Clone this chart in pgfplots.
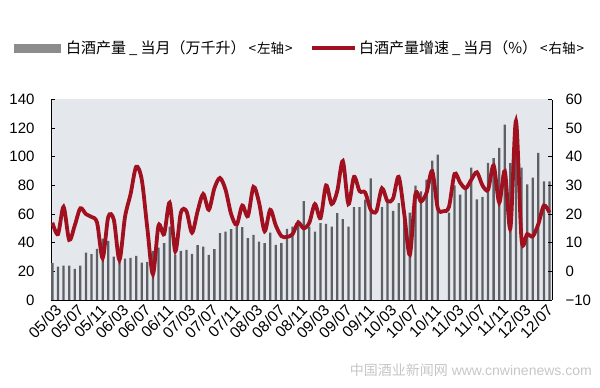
\documentclass[border=0pt]{standalone}
\usepackage{fontspec}
\setmainfont{Liberation Sans}
\newfontfamily\cjk{Noto Sans CJK SC}
\usepackage{pgfplots}
\usepackage{pgfplotstable}
\pgfplotsset{compat=1.18}
\definecolor{bgc}{HTML}{E4E8ED}
\definecolor{barc}{HTML}{5E6065}
\definecolor{legbar}{HTML}{8C8C8C}
\definecolor{linec}{HTML}{A0101E}

\pgfplotstableread{
x y
0 25.7
1 23.3
2 24
3 24
4 21.7
5 24
6 33.1
7 32
8 35.7
9 42.9
10 41.3
11 30.3
12 28
13 28.9
14 29.4
15 30.8
16 26.1
17 26.6
18 34.3
19 36.6
20 39.7
21 51.3
22 31.5
23 34.3
24 35
25 32.2
26 38.3
27 37.3
28 31.5
29 35.5
30 46.7
31 47.8
32 49.5
33 50.9
34 50.9
35 43.2
36 45.5
37 40.8
38 39.7
39 47.1
40 38.5
41 39.7
42 49.7
43 51.3
44 56
45 69.1
46 51.3
47 47.8
48 53.7
49 53.2
50 51.3
51 60.7
52 56.5
53 51.3
54 64.9
55 64.9
56 70
57 85
58 nan
59 64.9
60 67.7
61 62.3
62 67.7
63 56.5
64 61
65 79.8
66 75.8
67 84
68 97.3
69 101.5
70 nan
71 61
72 80
73 73.5
74 77
75 92.4
76 70.3
77 72
78 95.7
79 99
80 106.2
81 122.5
82 95.5
83 108.5
84 92.4
85 80.8
86 85.4
87 102.7
88 82.8
89 82.8
}\bars

\pgfplotstableread{
x y
0 17
1 13
2 22.5
3 11
4 16
5 22
6 20
7 19
8 17
9 4.6
10 19
11 18
12 4
13 19
14 27
15 36.5
16 32
17 15
18 -1
19 16
20 13
21 24
22 7
23 20.5
24 21
25 13.5
26 21
27 27
28 21.5
29 29
30 32.6
31 28.5
32 20
33 16.3
34 23
35 19.3
36 29.5
37 24
38 14
39 21.5
40 16
41 12.3
42 12
43 13
44 17
45 15
46 17
47 23.5
48 18.6
49 30
50 23.5
51 28
52 38.5
53 23.5
54 33
55 28
56 27.5
57 21.5
58 21
59 29
60 24.5
61 25.5
62 33
63 20
64 5.8
65 27
66 24.4
67 27.5
68 35
69 22
70 21
71 22.5
72 34
73 31
74 29
75 32
76 34.6
77 30
78 28.5
79 37
80 24
81 35
82 15
83 52.5
84 11
85 13
86 12.2
87 16.5
88 23
89 20.5
}\growth

\begin{document}
\begin{tikzpicture}
\useasboundingbox (0pt,0pt) rectangle (600pt,388pt);
\begin{axis}[
  at={(51pt,88pt)}, anchor=south west,
  scale only axis, width=501pt, height=200.5pt,
  xmin=-0.25, xmax=89.45, ymin=0, ymax=140,
  axis x line*=bottom, axis y line*=left,
  axis background/.style={fill=bgc},
  axis line style={black, line width=0.6pt},
  tick align=inside, major tick length=4pt,
  tick style={black, line width=0.6pt},
  ytick={0,20,...,140},
  xtick={0,4,...,88},
  xticklabels={05/03,05/07,05/11,06/03,06/07,06/11,07/03,07/07,07/11,08/03,08/07,08/11,09/03,09/07,09/11,10/03,10/07,10/11,11/03,11/07,11/11,12/03,12/07},
  x tick label style={rotate=45, anchor=north east, font=\fontsize{15.5}{17}\selectfont, inner sep=1pt, yshift=-3pt},
  y tick label style={font=\fontsize{15}{18}\selectfont, xshift=-13pt},
  /pgf/number format/assume math mode=true,
  clip=false,
]
\addplot[ybar, bar width=2.3pt, fill=barc, draw=none] table[x=x,y=y] {\bars};
\end{axis}
\begin{axis}[
  at={(51pt,88pt)}, anchor=south west,
  scale only axis, width=501pt, height=200.5pt,
  xmin=-0.25, xmax=89.45, ymin=-10, ymax=60,
  axis y line*=right, axis x line=none,
  axis line style={black, line width=0.6pt},
  tick align=inside, major tick length=4pt,
  tick style={black, line width=0.6pt},
  ytick={-10,0,...,60},
  yticklabels={−10,0,10,20,30,40,50,60},
  y tick label style={font=\fontsize{15}{18}\selectfont, xshift=10pt},
  /pgf/number format/assume math mode=true,
  legend style={at={(0.497,1.257)}, anchor=center, draw=none, fill=none,
    legend columns=2, font=\fontsize{15}{18}\selectfont\cjk,
    /tikz/every even column/.append style={column sep=16pt},
    inner sep=0pt},
  legend cell align=left,
]
\addlegendimage{legend image code/.code={\fill[legbar] (-4pt,-4pt) rectangle (42pt,4pt);}}
\addlegendentry{\hspace{4pt}白酒产量\hspace{3pt}\_\hspace{3pt}当月（万千升）\hspace{3pt}{\fontsize{13.5}{15}\selectfont <\hspace{1pt}左轴\hspace{1pt}>}}
\addplot[linec, line width=3.8pt, smooth, tension=0.5,
  legend image code/.code={\draw[linec, line width=3.5pt] (0pt,0pt) -- (43pt,0pt);}]
  table[x=x,y=y] {\growth};
\addlegendentry{白酒产量增速\hspace{3pt}\_\hspace{3pt}当月（\%）\hspace{3pt}{\fontsize{13.5}{15}\selectfont <\hspace{1pt}右轴\hspace{1pt}>}}
\end{axis}
\node[anchor=east, text=gray!45, inner sep=0pt] at (592pt,18pt)
  {{\cjk\fontsize{14}{16}\selectfont 中国酒业新闻网}\hspace{4pt}{\fontsize{14}{16}\selectfont www.cnwinenews.com}};
\end{tikzpicture}
\end{document}
